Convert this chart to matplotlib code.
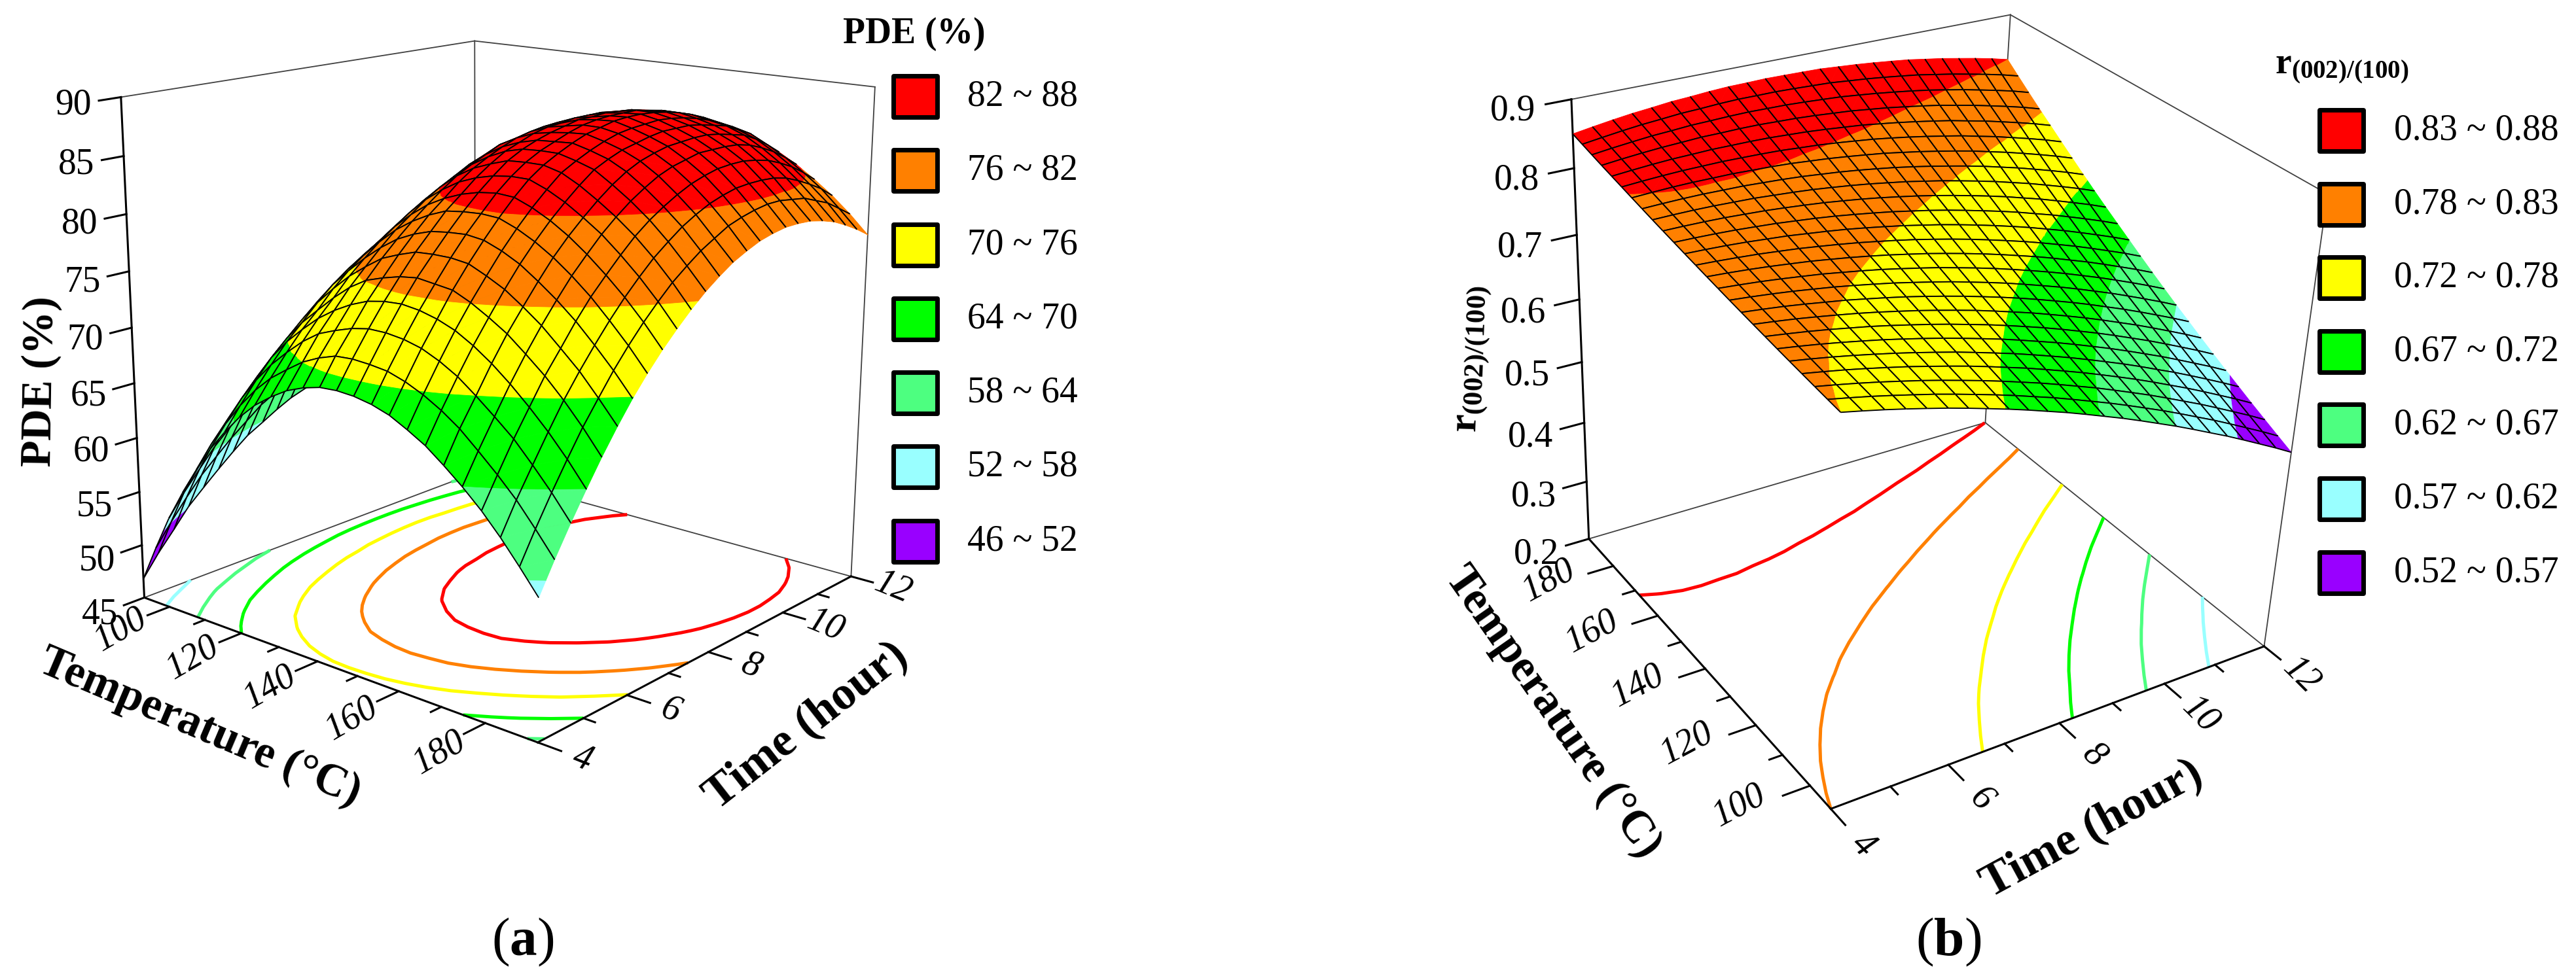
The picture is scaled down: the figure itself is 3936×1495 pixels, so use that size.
import numpy as np
import matplotlib
matplotlib.use('Agg')
import matplotlib.pyplot as plt
from matplotlib.patches import Rectangle
from mpl_toolkits.mplot3d.art3d import Poly3DCollection, Line3DCollection

plt.rcParams['font.family'] = 'Liberation Serif'
plt.rcParams['mathtext.fontset'] = 'custom'
plt.rcParams['mathtext.rm'] = 'Liberation Serif'
plt.rcParams['mathtext.it'] = 'Liberation Serif:italic'
plt.rcParams['mathtext.bf'] = 'Liberation Serif:bold'

W, H = 3936, 1495

# grid of the response surfaces
temperature = [92.7, 96.8, 100.9, 105.1, 109.2, 113.3, 117.4, 121.5, 125.6, 129.8, 133.9, 138.0, 142.1,
               146.2, 150.3, 154.5, 158.6, 162.7, 166.8, 170.9, 175.0, 179.2, 183.3, 187.4, 191.5]
time_h = [4.00, 4.33, 4.67, 5.00, 5.33, 5.67, 6.00, 6.33, 6.67, 7.00, 7.33, 7.67, 8.00,
          8.33, 8.67, 9.00, 9.33, 9.67, 10.00, 10.33, 10.67, 11.00, 11.33, 11.67, 12.00]

# PDE (%), one row per temperature, one column per time
pde = [
    [46.8, 48.7, 50.4, 52.1, 53.4, 54.7, 55.9, 57.0, 57.8, 58.6, 59.3, 59.8, 60.3, 60.6, 60.8, 60.9, 60.9, 60.7, 60.4, 60.0, 59.5, 58.8, 58.0, 57.1, 55.9],
    [50.2, 52.1, 53.9, 55.5, 56.8, 58.1, 59.2, 60.3, 61.1, 62.0, 62.6, 63.2, 63.7, 64.0, 64.2, 64.3, 64.3, 64.2, 63.9, 63.6, 63.1, 62.6, 61.8, 60.9, 59.8],
    [53.4, 55.3, 57.0, 58.6, 59.9, 61.2, 62.3, 63.3, 64.2, 65.0, 65.7, 66.2, 66.7, 67.1, 67.3, 67.5, 67.5, 67.5, 67.2, 66.9, 66.5, 65.9, 65.1, 64.3, 63.3],
    [56.2, 58.0, 59.8, 61.4, 62.7, 63.9, 65.0, 66.1, 66.9, 67.8, 68.4, 68.9, 69.5, 69.8, 70.1, 70.3, 70.4, 70.3, 70.0, 69.8, 69.5, 69.0, 68.3, 67.5, 66.5],
    [58.7, 60.6, 62.3, 63.9, 65.2, 66.5, 67.6, 68.5, 69.4, 70.2, 70.9, 71.4, 71.9, 72.3, 72.6, 72.9, 72.9, 73.0, 72.7, 72.5, 72.2, 71.7, 71.1, 70.3, 69.4],
    [61.0, 62.8, 64.6, 66.1, 67.5, 68.8, 69.9, 70.9, 71.8, 72.6, 73.3, 73.8, 74.4, 74.8, 75.1, 75.4, 75.5, 75.5, 75.3, 75.1, 74.8, 74.3, 73.7, 73.0, 72.1],
    [62.9, 64.8, 66.6, 68.2, 69.5, 70.8, 72.0, 73.0, 73.9, 74.7, 75.4, 76.0, 76.6, 77.0, 77.3, 77.6, 77.7, 77.8, 77.6, 77.4, 77.1, 76.7, 76.1, 75.4, 74.5],
    [64.6, 66.5, 68.3, 69.9, 71.2, 72.6, 73.8, 74.8, 75.7, 76.5, 77.3, 77.9, 78.5, 78.9, 79.2, 79.6, 79.7, 79.7, 79.6, 79.4, 79.2, 78.7, 78.2, 77.5, 76.6],
    [66.0, 67.9, 69.7, 71.3, 72.6, 74.1, 75.3, 76.3, 77.2, 78.1, 78.9, 79.4, 80.0, 80.5, 80.8, 81.2, 81.3, 81.4, 81.3, 81.2, 80.9, 80.5, 80.0, 79.3, 78.4],
    [67.1, 69.0, 71.0, 72.6, 74.0, 75.5, 76.7, 77.8, 78.8, 79.7, 80.5, 81.2, 81.8, 82.3, 82.6, 82.9, 83.1, 83.2, 83.0, 82.9, 82.6, 82.2, 81.7, 80.9, 80.1],
    [68.0, 70.0, 72.0, 73.6, 75.2, 76.6, 77.9, 79.1, 80.1, 81.1, 81.9, 82.6, 83.3, 83.8, 84.2, 84.5, 84.6, 84.7, 84.5, 84.4, 84.2, 83.7, 83.1, 82.3, 81.5],
    [68.6, 70.7, 72.6, 74.4, 76.1, 77.6, 78.9, 80.1, 81.2, 82.2, 83.1, 83.8, 84.4, 85.0, 85.2, 85.5, 85.7, 85.7, 85.6, 85.5, 85.2, 84.9, 84.3, 83.5, 82.6],
    [69.0, 71.2, 73.1, 75.0, 76.6, 78.2, 79.6, 80.9, 82.0, 83.1, 84.0, 84.7, 85.3, 85.8, 86.1, 86.3, 86.4, 86.4, 86.4, 86.3, 86.0, 85.6, 85.2, 84.4, 83.5],
    [69.1, 71.3, 73.4, 75.3, 77.0, 78.7, 80.1, 81.5, 82.6, 83.7, 84.6, 85.4, 85.9, 86.4, 86.7, 86.8, 87.0, 87.0, 87.0, 86.7, 86.5, 86.1, 85.7, 85.1, 84.2],
    [69.0, 71.2, 73.4, 75.4, 77.2, 78.8, 80.3, 81.7, 83.0, 84.1, 85.1, 85.8, 86.3, 86.7, 87.0, 87.3, 87.3, 87.4, 87.3, 87.2, 86.9, 86.4, 86.0, 85.4, 84.6],
    [68.7, 71.0, 73.2, 75.2, 77.0, 78.8, 80.4, 81.8, 83.2, 84.3, 85.2, 85.9, 86.4, 86.9, 87.3, 87.5, 87.6, 87.6, 87.6, 87.3, 87.1, 86.7, 86.1, 85.5, 84.7],
    [68.2, 70.5, 72.8, 74.8, 76.8, 78.6, 80.2, 81.7, 83.1, 84.3, 85.2, 85.9, 86.5, 87.0, 87.3, 87.6, 87.7, 87.7, 87.6, 87.4, 87.1, 86.7, 86.2, 85.5, 84.7],
    [67.4, 69.8, 72.1, 74.2, 76.1, 77.9, 79.6, 81.1, 82.5, 83.7, 84.8, 85.5, 86.1, 86.6, 87.0, 87.2, 87.3, 87.4, 87.3, 87.1, 86.8, 86.4, 85.9, 85.3, 84.4],
    [66.5, 68.9, 71.2, 73.3, 75.2, 77.1, 78.8, 80.3, 81.7, 82.9, 84.0, 85.0, 85.6, 86.1, 86.4, 86.7, 86.9, 86.9, 86.9, 86.7, 86.4, 86.1, 85.5, 84.9, 83.9],
    [65.3, 67.8, 70.0, 72.2, 74.2, 76.0, 77.7, 79.3, 80.7, 81.9, 83.0, 84.0, 84.8, 85.4, 85.8, 86.1, 86.2, 86.3, 86.3, 86.1, 85.8, 85.5, 84.9, 84.1, 83.2],
    [64.0, 66.4, 68.7, 70.9, 72.9, 74.8, 76.5, 78.1, 79.5, 80.8, 81.9, 82.9, 83.7, 84.4, 84.9, 85.2, 85.5, 85.5, 85.5, 85.4, 85.1, 84.6, 84.0, 83.2, 82.3],
    [62.5, 64.9, 67.3, 69.4, 71.5, 73.3, 75.1, 76.7, 78.1, 79.4, 80.6, 81.6, 82.4, 83.1, 83.7, 84.1, 84.4, 84.5, 84.5, 84.3, 84.0, 83.5, 82.9, 82.1, 81.2],
    [60.8, 63.3, 65.6, 67.8, 69.9, 71.8, 73.5, 75.1, 76.6, 77.9, 79.1, 80.1, 81.0, 81.7, 82.3, 82.7, 83.0, 83.1, 83.1, 83.0, 82.7, 82.2, 81.6, 80.9, 80.0],
    [58.9, 61.4, 63.8, 66.0, 68.1, 70.0, 71.8, 73.4, 74.9, 76.2, 77.4, 78.4, 79.3, 80.0, 80.7, 81.1, 81.4, 81.6, 81.6, 81.4, 81.2, 80.7, 80.2, 79.4, 78.6],
    [56.9, 59.4, 61.8, 64.0, 66.1, 68.1, 69.9, 71.5, 73.0, 74.3, 75.5, 76.6, 77.5, 78.3, 78.9, 79.4, 79.7, 79.9, 79.9, 79.8, 79.5, 79.1, 78.5, 77.8, 77.0],
]

# r(002)/(100), one row per time, one column per temperature
ratio = [
    [.7800, .7821, .7843, .7866, .7889, .7913, .7938, .7963, .7989, .8016, .8044, .8072, .8101, .8130, .8161, .8192, .8223, .8256, .8289, .8323, .8357, .8392, .8428, .8465, .8502],
    [.7737, .7762, .7788, .7814, .7842, .7870, .7898, .7928, .7958, .7989, .8021, .8054, .8087, .8121, .8156, .8192, .8228, .8265, .8303, .8342, .8381, .8422, .8463, .8504, .8547],
    [.7669, .7698, .7727, .7758, .7789, .7821, .7854, .7888, .7923, .7957, .7994, .8031, .8068, .8108, .8147, .8188, .8229, .8271, .8315, .8358, .8403, .8448, .8494, .8542, .8590],
    [.7598, .7630, .7664, .7698, .7733, .7769, .7806, .7843, .7882, .7922, .7962, .8004, .8047, .8090, .8134, .8180, .8225, .8272, .8320, .8369, .8419, .8469, .8522, .8574, .8627],
    [.7523, .7559, .7596, .7634, .7673, .7713, .7753, .7795, .7837, .7881, .7926, .7972, .8019, .8066, .8115, .8165, .8215, .8266, .8319, .8373, .8427, .8483, .8539, .8597, .8655],
    [.7444, .7484, .7524, .7566, .7608, .7653, .7698, .7743, .7791, .7838, .7888, .7938, .7989, .8042, .8094, .8149, .8205, .8261, .8319, .8377, .8437, .8499, .8560, .8623, .8687],
    [.7361, .7404, .7448, .7493, .7540, .7588, .7637, .7687, .7737, .7789, .7842, .7897, .7952, .8008, .8066, .8126, .8185, .8246, .8308, .8372, .8436, .8501, .8568, .8635, .8704],
    [.7274, .7321, .7368, .7418, .7468, .7520, .7572, .7626, .7682, .7737, .7795, .7854, .7913, .7975, .8037, .8100, .8165, .8231, .8299, .8366, .8436, .8507, .8578, .8652, .8726],
    [.7183, .7233, .7284, .7338, .7392, .7447, .7503, .7561, .7621, .7681, .7743, .7805, .7869, .7936, .8002, .8070, .8140, .8210, .8283, .8356, .8430, .8506, .8583, .8662, .8741],
    [.7089, .7143, .7197, .7254, .7311, .7370, .7431, .7492, .7556, .7619, .7685, .7753, .7820, .7891, .7961, .8034, .8108, .8182, .8259, .8336, .8416, .8496, .8578, .8661, .8745],
    [.6990, .7047, .7105, .7165, .7227, .7290, .7354, .7420, .7487, .7555, .7625, .7696, .7769, .7843, .7918, .7996, .8074, .8154, .8235, .8318, .8402, .8487, .8574, .8662, .8752],
    [.6888, .6949, .7010, .7074, .7139, .7206, .7273, .7343, .7413, .7486, .7560, .7635, .7712, .7790, .7870, .7951, .8034, .8118, .8203, .8291, .8379, .8470, .8561, .8654, .8748],
    [.6781, .6845, .6910, .6977, .7046, .7116, .7188, .7261, .7335, .7411, .7489, .7569, .7650, .7732, .7816, .7902, .7989, .8078, .8168, .8260, .8353, .8448, .8545, .8643, .8743],
    [.6671, .6738, .6807, .6878, .6950, .7023, .7099, .7175, .7255, .7335, .7417, .7500, .7585, .7673, .7761, .7851, .7943, .8036, .8132, .8228, .8327, .8426, .8528, .8632, .8737],
    [.6557, .6627, .6700, .6773, .6849, .6926, .7005, .7086, .7168, .7252, .7338, .7425, .7514, .7605, .7698, .7792, .7887, .7985, .8084, .8186, .8288, .8392, .8499, .8606, .8716],
    [.6439, .6513, .6588, .6665, .6744, .6825, .6908, .6991, .7078, .7165, .7255, .7347, .7439, .7535, .7631, .7730, .7831, .7932, .8036, .8142, .8249, .8359, .8469, .8582, .8696],
    [.6317, .6394, .6473, .6554, .6636, .6720, .6806, .6894, .6984, .7075, .7169, .7264, .7361, .7461, .7561, .7664, .7768, .7874, .7983, .8093, .8205, .8318, .8434, .8552, .8671],
    [.6191, .6271, .6353, .6437, .6523, .6610, .6700, .6791, .6885, .6980, .7077, .7177, .7278, .7381, .7486, .7593, .7701, .7812, .7925, .8039, .8156, .8274, .8395, .8517, .8641],
    [.6061, .6144, .6229, .6317, .6406, .6497, .6590, .6685, .6783, .6882, .6983, .7086, .7191, .7299, .7408, .7519, .7632, .7747, .7865, .7984, .8105, .8228, .8353, .8481, .8610],
    [.5927, .6013, .6102, .6192, .6284, .6380, .6476, .6574, .6675, .6778, .6883, .6989, .7099, .7210, .7322, .7438, .7555, .7674, .7795, .7919, .8044, .8172, .8302, .8433, .8567],
    [.5790, .5879, .5971, .6064, .6160, .6258, .6358, .6460, .6564, .6671, .6779, .6890, .7003, .7118, .7235, .7355, .7476, .7599, .7724, .7853, .7983, .8114, .8249, .8385, .8524],
    [.5648, .5740, .5835, .5932, .6031, .6132, .6235, .6341, .6449, .6559, .6671, .6785, .6902, .7021, .7142, .7265, .7390, .7518, .7648, .7780, .7914, .8050, .8189, .8330, .8473],
    [.5503, .5598, .5696, .5796, .5899, .6003, .6109, .6219, .6330, .6444, .6560, .6677, .6798, .6921, .7046, .7173, .7303, .7435, .7569, .7706, .7844, .7985, .8129, .8274, .8422],
    [.5353, .5451, .5552, .5655, .5760, .5869, .5978, .6091, .6205, .6323, .6442, .6564, .6689, .6815, .6944, .7076, .7209, .7345, .7483, .7625, .7767, .7913, .8061, .8211, .8363],
    [.5200, .5301, .5404, .5511, .5620, .5730, .5843, .5959, .6078, .6198, .6321, .6446, .6574, .6705, .6837, .6972, .7109, .7249, .7392, .7537, .7684, .7833, .7985, .8140, .8297],
]

pde_levels = [46, 52, 58, 64, 70, 76, 82, 88]
ratio_levels = [0.52, 0.57, 0.62, 0.67, 0.72, 0.78, 0.83, 0.88]
band_colors = ['#9900ff', '#99ffff', '#4dff80', '#00ff00', '#ffff00', '#ff8000', '#ff0000']

pde_legend = ['82 ~ 88', '76 ~ 82', '70 ~ 76', '64 ~ 70', '58 ~ 64', '52 ~ 58', '46 ~ 52']
ratio_legend = ['0.83 ~ 0.88', '0.78 ~ 0.83', '0.72 ~ 0.78', '0.67 ~ 0.72', '0.62 ~ 0.67', '0.57 ~ 0.62', '0.52 ~ 0.57']

temp_major = [100, 120, 140, 160, 180]
temp_minor = [110, 130, 150, 170]
time_major = [4, 6, 8, 10, 12]
time_minor = [5, 7, 9, 11]
pde_ticks = [45, 50, 55, 60, 65, 70, 75, 80, 85, 90]
ratio_ticks = [0.2, 0.3, 0.4, 0.5, 0.6, 0.7, 0.8, 0.9]


def camera(ax, lims, corners):
    # projective camera fitted on the pixel position of the box corners
    (x0, x1), (y0, y1), (z0, z1) = lims
    rows = []
    for (ix, iy, iz, px, py) in corners:
        u, v = ax.transData.inverted().transform((px, H - py))
        X = np.array([(ix - x0) / (x1 - x0), (iy - y0) / (y1 - y0), (iz - z0) / (z1 - z0), 1.0])
        rows.append(np.r_[X, 0, 0, 0, 0, -u * X])
        rows.append(np.r_[0, 0, 0, 0, X, -v * X])
    p = np.linalg.svd(np.array(rows))[2][-1].reshape(3, 4)
    if p[2, 3] < 0:
        p = -p
    scale = np.array([[1 / (x1 - x0), 0, 0, -x0 / (x1 - x0)],
                      [0, 1 / (y1 - y0), 0, -y0 / (y1 - y0)],
                      [0, 0, 1 / (z1 - z0), -z0 / (z1 - z0)],
                      [0, 0, 0, 1]])
    return np.array([p[0], p[1], [0, 0, 0, -1], p[2]]) @ scale


def cut(poly, level, above):
    out = []
    for k in range(len(poly)):
        a, b = poly[k], poly[(k + 1) % len(poly)]
        ina = a[2] >= level if above else a[2] <= level
        inb = b[2] >= level if above else b[2] <= level
        if ina:
            out.append(a)
        if ina != inb:
            f = (level - a[2]) / (b[2] - a[2])
            out.append(tuple(a[m] + f * (b[m] - a[m]) for m in range(3)))
    return out


def surface(ax, M, T, t, Z, levels):
    # painted cell by cell, far ones first, so that the dome hides what is behind it
    edges = [-np.inf] + list(levels[1:-1]) + [np.inf]
    cells = []
    for i in range(len(T) - 1):
        for j in range(len(t) - 1):
            c = np.array([(T[i] + T[i + 1]) / 2, (t[j] + t[j + 1]) / 2, Z[i:i + 2, j:j + 2].mean(), 1.0])
            cells.append((abs(M[3] @ c), i, j))
    cells.sort(reverse=True)
    for rank, (_, i, j) in enumerate(cells):
        p00 = (T[i], t[j], Z[i, j])
        p10 = (T[i + 1], t[j], Z[i + 1, j])
        p11 = (T[i + 1], t[j + 1], Z[i + 1, j + 1])
        p01 = (T[i], t[j + 1], Z[i, j + 1])
        polys, cols = [], []
        for b in range(len(band_colors)):
            for tri in ([p00, p10, p11], [p00, p11, p01]):
                piece = cut(cut(tri, edges[b], True), edges[b + 1], False)
                if len(piece) >= 3:
                    polys.append(piece)
                    cols.append(band_colors[b])
        fill = Poly3DCollection(polys, facecolors=cols, edgecolors=cols, linewidths=0.6)
        fill.set_zorder(10 + 2 * rank)
        ax.add_collection3d(fill, autolim=False)
        segs = [[p00, p10], [p00, p01]]
        if j + 1 < len(t) - 1:
            segs.append([p01, p11])
        if i + 1 < len(T) - 1:
            segs.append([p10, p11])
        grid = Line3DCollection(segs, colors='black', linewidths=1.35)
        grid.set_zorder(11 + 2 * rank)
        ax.add_collection3d(grid, autolim=False)


def put_text(ax, M, x, y, z, s, **kw):
    # tick labels are placed in figure coordinates, at the projected spot
    h = M @ np.array([x, y, z, 1.0])
    px, py = ax.transData.transform((h[0] / h[3], h[1] / h[3]))
    fig.text(px / W, py / H, s, fontsize=40, ha='center', va='center', rotation_mode='anchor', **kw)


def chart(x_left, lims, corners, Z, levels, ztick, zfmt, near_T, far_T, tdir, lab_T, lab_t, lab_z, rot_T, rot_t):
    ax = fig.add_axes([x_left / W, 0, H / W, 1], projection='3d')
    ax.set_axis_off()
    ax.patch.set_visible(False)
    ax.computed_zorder = False
    (T0, T1), (t0, t1), (z0, z1) = lims
    ax.set_xlim(T0, T1)
    ax.set_ylim(t0, t1)
    ax.set_zlim(z0, z1)
    ax.set_autoscale_on(False)
    ax.get_proj = lambda: camera(ax, lims, corners)
    M = camera(ax, lims, corners)

    T = np.array(temperature)
    t = np.array(time_h)
    surface(ax, M, T, t, Z, levels)
    cs = ax.contour(T, t, Z.T, levels=levels[1:-1], colors=band_colors[1:], linewidths=3.6,
                    zdir='z', offset=z0)
    cs.set_zorder(2)
    ax.set_xlim(T0, T1)
    ax.set_ylim(t0, t1)
    ax.set_zlim(z0, z1)

    thin = dict(color='#404040', lw=1.3, zorder=1)
    thick = dict(color='black', lw=2.2, zorder=3)
    # back lines of the box
    ax.plot([far_T, far_T], [t0, t1], [z0, z0], **thin)
    ax.plot([T0, T1], [t1, t1], [z0, z0], **thin)
    ax.plot([far_T, far_T], [t0, t0], [z0, z1], **thick)
    ax.plot([far_T, far_T], [t1, t1], [z0, z1], **thin)
    ax.plot([near_T, near_T], [t1, t1], [z0, z1], **thin)
    ax.plot([far_T, far_T], [t0, t1], [z1, z1], **thin)
    ax.plot([T0, T1], [t1, t1], [z1, z1], **thin)
    # the two front lines, with their ticks
    ax.plot([T0, T1], [t0, t0], [z0, z0], **thick)
    ax.plot([near_T, near_T], [t0, t1], [z0, z0], **thick)
    for v in temp_major:
        ax.plot([v, v], [t0, t0 - 0.45], [z0, z0], **thick)
        put_text(ax, M, v + 1.5, t0 - lab_T, z0, str(v), style='italic', rotation=rot_T)
    for v in temp_minor:
        ax.plot([v, v], [t0, t0 - 0.22], [z0, z0], **thick)
    for v in time_major:
        ax.plot([near_T, near_T + tdir * 5], [v, v], [z0, z0], **thick)
        put_text(ax, M, near_T + tdir * lab_t, v, z0, str(v), style='italic', rotation=rot_t)
    for v in time_minor:
        ax.plot([near_T, near_T + tdir * 2.5], [v, v], [z0, z0], **thick)
    for v in ztick:
        ax.plot([far_T, far_T], [t0, t0 - 0.42], [v, v], **thick)
        put_text(ax, M, far_T, t0 - lab_z, v, zfmt % v)
    return ax


def legend(x, y_first, step, w, h, xt, labels):
    for k, s in enumerate(labels):
        y = y_first + k * step
        fig.add_artist(Rectangle((x / W, 1 - (y + h) / H), w / W, h / H, transform=fig.transFigure,
                                 facecolor=band_colors[-1 - k], edgecolor='black', lw=5, joinstyle='round'))
        fig.text(xt / W, 1 - (y + h / 2) / H, s, fontsize=40, ha='left', va='center')


def label(x, y, s, rot, size=50, **kw):
    fig.text(x / W, 1 - y / H, s, fontsize=size, fontweight='bold', rotation=rot,
             ha='center', va='center', rotation_mode='anchor', **kw)


fig = plt.figure(figsize=(W / 100, H / 100), dpi=100, facecolor='white')

T_lo, T_hi = temperature[0], temperature[-1]
t_lo, t_hi = time_h[0], time_h[-1]

# (a)
pde_box = ((T_lo, T_hi), (t_lo, t_hi), (45, 90))
pde_corners = [(T_lo, t_lo, 45, 220, 912), (T_hi, t_lo, 45, 822, 1136), (T_hi, t_hi, 45, 1300, 880),
               (T_lo, t_hi, 45, 727, 724), (T_lo, t_lo, 90, 185, 149), (T_lo, t_hi, 90, 725, 62),
               (T_hi, t_hi, 90, 1337, 133)]
chart(0, pde_box, pde_corners, np.array(pde), pde_levels, pde_ticks, '%d',
      T_hi, T_lo, 1, 1.1, 9.5, 0.9, 30, -22)

legend(1365, 116, 113.3, 67, 63, 1478, pde_legend)
fig.text(1397 / W, 1 - 52 / H, 'PDE (%)', fontsize=40, fontweight='bold', ha='center', va='center')
label(62, 583, 'PDE (%)', 89, size=48)
label(305, 1113, 'Temperature (°C)', -23)
label(1232, 1110, 'Time (hour)', 38, size=52)
fig.text(799 / W, 1 - 1440 / H, r'($\mathbf{a}$)', fontsize=60, ha='center', va='center')

# (b)
ratio_box = ((T_lo, T_hi), (t_lo, t_hi), (0.2, 0.9))
ratio_corners = [(T_lo, t_lo, 0.2, 2797, 1237), (T_hi, t_lo, 0.2, 2428, 823), (T_lo, t_hi, 0.2, 3460, 987),
                 (T_hi, t_hi, 0.2, 3033, 647), (T_hi, t_lo, 0.9, 2401, 152), (T_hi, t_hi, 0.9, 3072, 22),
                 (T_lo, t_hi, 0.9, 3556, 297)]
chart(2150, ratio_box, ratio_corners, np.array(ratio).T, ratio_levels, ratio_ticks, '%.1f',
      T_lo, T_hi, -1, 1.1, 11, 0.95, 28, -45)

legend(3544, 168, 112.6, 67, 63, 3658, ratio_legend)
fig.text(3578 / W, 1 - 104 / H, r'$\mathbf{r_{(002)/(100)}}$', fontsize=40, ha='center', va='center')
label(2250, 549, r'$\mathbf{r_{(002)/(100)}}$', 88, size=44)
label(2372, 1089, 'Temperature (°C)', -55)
label(3197, 1268, 'Time (hour)', 28.5, size=52)
fig.text(2977 / W, 1 - 1440 / H, r'($\mathbf{b}$)', fontsize=60, ha='center', va='center')

fig.savefig('out.png', dpi=100)
